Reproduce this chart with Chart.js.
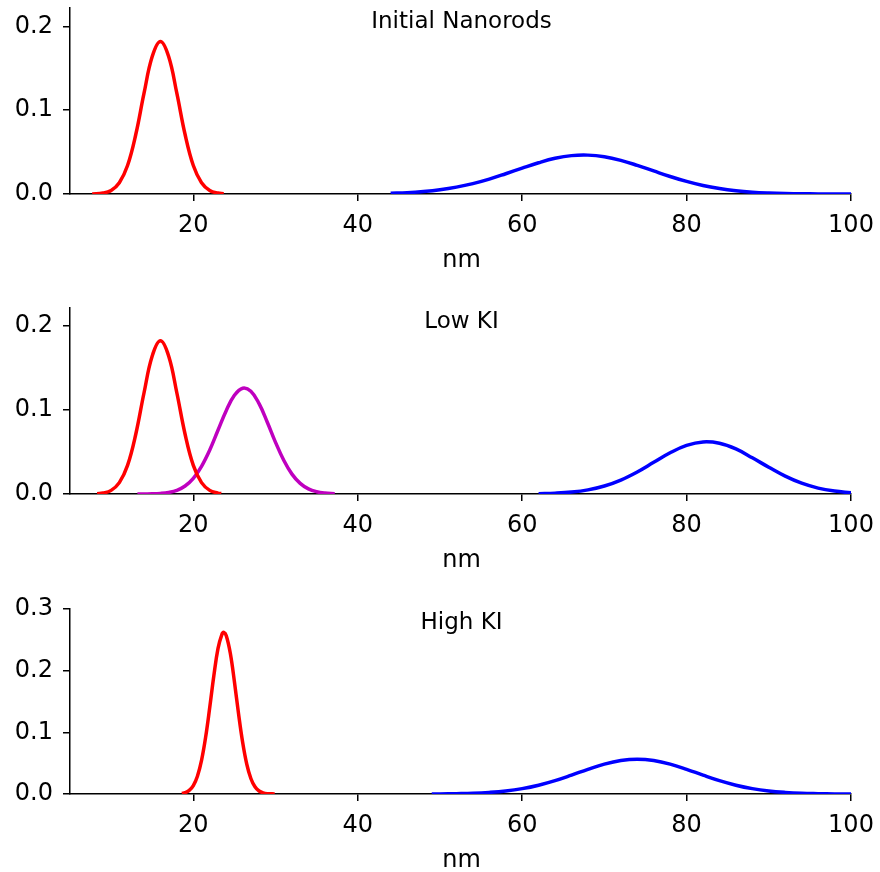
<!DOCTYPE html>
<html>
<head>
<meta charset="utf-8">
<script src="https://cdn.jsdelivr.net/npm/chart.js@4/dist/chart.umd.min.js"></script>
<style>
  html, body { margin: 0; padding: 0; background: #fff; }
  body { width: 880px; height: 872px; position: relative; overflow: hidden; }
  .panel { position: absolute; left: 0; width: 880px; }
</style>
</head>
<body>
<div class="panel" style="top:0;height:272px"><canvas id="initialChart" width="880" height="272"></canvas></div>
<div class="panel" style="top:290px;height:282px"><canvas id="lowChart" width="880" height="282"></canvas></div>
<div class="panel" style="top:590px;height:282px"><canvas id="highChart" width="880" height="282"></canvas></div>
<script>
// tick labels
const xTicks = [20, 40, 60, 80, 100];
const yTicksSmall = [0, 0.1, 0.2];
const yTicksLarge = [0, 0.1, 0.2, 0.3];

// Initial Nanorods
const initialRedX = [7.7, 9, 10, 11, 12, 13, 14, 15, 16, 17, 18, 19, 20, 21, 22, 23, 23.7];
const initialRedY = [0.0001, 0.0011, 0.0043, 0.0135, 0.034, 0.071, 0.120, 0.164, 0.182, 0.164, 0.120, 0.071, 0.034, 0.0135, 0.0043, 0.0011, 0.0004];
const initialBlueX = [44, 46, 48, 50, 52, 54, 56, 58, 60, 62, 64, 66, 68, 70, 72, 74, 76, 78, 80, 82, 84, 86, 88, 90, 92, 94, 96, 98, 100];
const initialBlueY = [0.0009, 0.0016, 0.0030, 0.0051, 0.0082, 0.0124, 0.0178, 0.0242, 0.0309, 0.0373, 0.0426, 0.0458, 0.0464, 0.0445, 0.0402, 0.0342, 0.0275, 0.0209, 0.0150, 0.0101, 0.0065, 0.0039, 0.0022, 0.0012, 0.0006, 0.0003, 0.0001, 0.0001, 0];

// Low KI
const lowRedX = [8.3, 9, 10, 11, 12, 13, 14, 15, 16, 17, 18, 19, 20, 21, 22, 23, 23.4];
const lowRedY = [0.0004, 0.0011, 0.0043, 0.0135, 0.034, 0.071, 0.120, 0.164, 0.182, 0.164, 0.120, 0.071, 0.034, 0.0135, 0.0043, 0.0011, 0.0006];
const lowMagentaX = [13.2, 14, 15, 16, 17, 18, 19, 20, 21, 22, 23, 24, 25, 26, 27, 28, 29, 30, 31, 32, 33, 34, 35, 36, 37.2];
const lowMagentaY = [0, 0.0001, 0.0002, 0.0007, 0.0019, 0.0044, 0.0095, 0.0186, 0.0329, 0.0523, 0.0757, 0.0990, 0.1173, 0.1257, 0.1221, 0.1073, 0.0853, 0.0614, 0.0401, 0.0236, 0.0126, 0.0061, 0.0027, 0.0011, 0.0003];
const lowBlueX = [62, 64, 66, 68, 70, 72, 74, 76, 78, 80, 82, 84, 86, 88, 90, 92, 94, 96, 98, 100];
const lowBlueY = [0.0004, 0.0010, 0.0023, 0.0049, 0.0095, 0.0166, 0.0262, 0.0376, 0.0490, 0.0578, 0.0619, 0.0603, 0.0535, 0.0430, 0.0318, 0.0212, 0.0128, 0.0070, 0.0035, 0.0015];

// High KI
const highRedX = [18.6, 19, 19.5, 20, 20.5, 21, 21.5, 22, 22.5, 23, 23.5, 23.7, 24, 24.5, 25, 25.5, 26, 26.5, 27, 27.5, 28, 28.5, 29, 29.9];
const highRedY = [0.001, 0.0022, 0.0059, 0.0137, 0.0288, 0.0545, 0.0923, 0.1406, 0.1921, 0.2358, 0.2597, 0.262, 0.2570, 0.2282, 0.1821, 0.1303, 0.0838, 0.0484, 0.0251, 0.0117, 0.0049, 0.0018, 0.0006, 0.0001];
const highBlueX = [49, 50, 52, 54, 56, 58, 60, 62, 64, 66, 68, 70, 72, 74, 76, 78, 80, 82, 84, 86, 88, 90, 92, 94, 96, 98, 100];
const highBlueY = [0.0001, 0.0002, 0.0006, 0.0012, 0.0026, 0.0049, 0.0087, 0.0143, 0.0217, 0.0306, 0.0400, 0.0484, 0.0542, 0.0563, 0.0542, 0.0484, 0.0400, 0.0306, 0.0217, 0.0143, 0.0087, 0.0049, 0.0026, 0.0012, 0.0006, 0.0002, 0.0001];

const FONT = "'DejaVu Sans', sans-serif";

function points(xs, ys) {
  return xs.map((x, i) => ({ x: x, y: ys[i] }));
}

function curve(xs, ys, color) {
  return {
    data: points(xs, ys),
    borderColor: color,
    borderWidth: 3.5,
    pointRadius: 0,
    fill: false,
    tension: 0.4
  };
}

// title above the curves and the "nm" axis label
const panelText = {
  id: "panelText",
  afterDraw(chart, args, opts) {
    const { ctx, chartArea } = chart;
    const cx = (chartArea.left + chartArea.right) / 2 + 1;
    ctx.save();
    ctx.fillStyle = "#000";
    ctx.textAlign = "center";
    ctx.textBaseline = "alphabetic";
    ctx.font = "23px " + FONT;
    ctx.fillText(opts.title, cx, chartArea.top + 20);
    ctx.font = "24px " + FONT;
    ctx.fillText("nm", cx, chartArea.bottom + 73);
    ctx.restore();
  }
};

function axisStyle() {
  return {
    grid: { display: true, drawOnChartArea: false, drawTicks: true, tickLength: 7, color: "#000", lineWidth: 1.5 },
    border: { display: true, color: "#000", width: 1.5 }
  };
}

function renderPanel(id, title, datasets, yMax, yTicks, topPad) {
  const ctx = document.getElementById(id);
  return new Chart(ctx, {
    type: "line",
    data: { datasets: datasets },
    plugins: [panelText],
    options: {
      responsive: false,
      animation: false,
      events: [],
      layout: { padding: { top: topPad, right: 29, left: 0, bottom: 0 } },
      plugins: {
        legend: { display: false },
        tooltip: { enabled: false },
        panelText: { title: title }
      },
      scales: {
        x: {
          type: "linear",
          min: 5,
          max: 100,
          ...axisStyle(),
          afterBuildTicks: (axis) => { axis.ticks = xTicks.map((v) => ({ value: v })); },
          afterFit: (axis) => {
            axis.height = 78;
            axis.paddingLeft = 0;
            axis.paddingRight = 0;
          },
          ticks: {
            padding: 10,
            color: "#000",
            maxRotation: 0,
            autoSkip: false,
            font: { size: 24, family: FONT },
            callback: (v) => String(v)
          }
        },
        y: {
          type: "linear",
          min: 0,
          max: yMax,
          ...axisStyle(),
          afterBuildTicks: (axis) => { axis.ticks = yTicks.map((v) => ({ value: v })); },
          afterFit: (axis) => {
            axis.width = 70;
            axis.paddingTop = 0;
            axis.paddingBottom = 0;
          },
          ticks: {
            padding: 10,
            color: "#000",
            autoSkip: false,
            font: { size: 24, family: FONT },
            callback: (v) => Number(v).toFixed(1)
          }
        }
      }
    }
  });
}

renderPanel("initialChart", "Initial Nanorods", [
  curve(initialRedX, initialRedY, "#ff0000"),
  curve(initialBlueX, initialBlueY, "#0000ff")
], 0.222, yTicksSmall, 8);

renderPanel("lowChart", "Low KI", [
  curve(lowRedX, lowRedY, "#ff0000"),
  curve(lowMagentaX, lowMagentaY, "#bf00bf"),
  curve(lowBlueX, lowBlueY, "#0000ff")
], 0.221, yTicksSmall, 18);

renderPanel("highChart", "High KI", [
  curve(highRedX, highRedY, "#ff0000"),
  curve(highBlueX, highBlueY, "#0000ff")
], 0.3, yTicksLarge, 19);
</script>
</body>
</html>
